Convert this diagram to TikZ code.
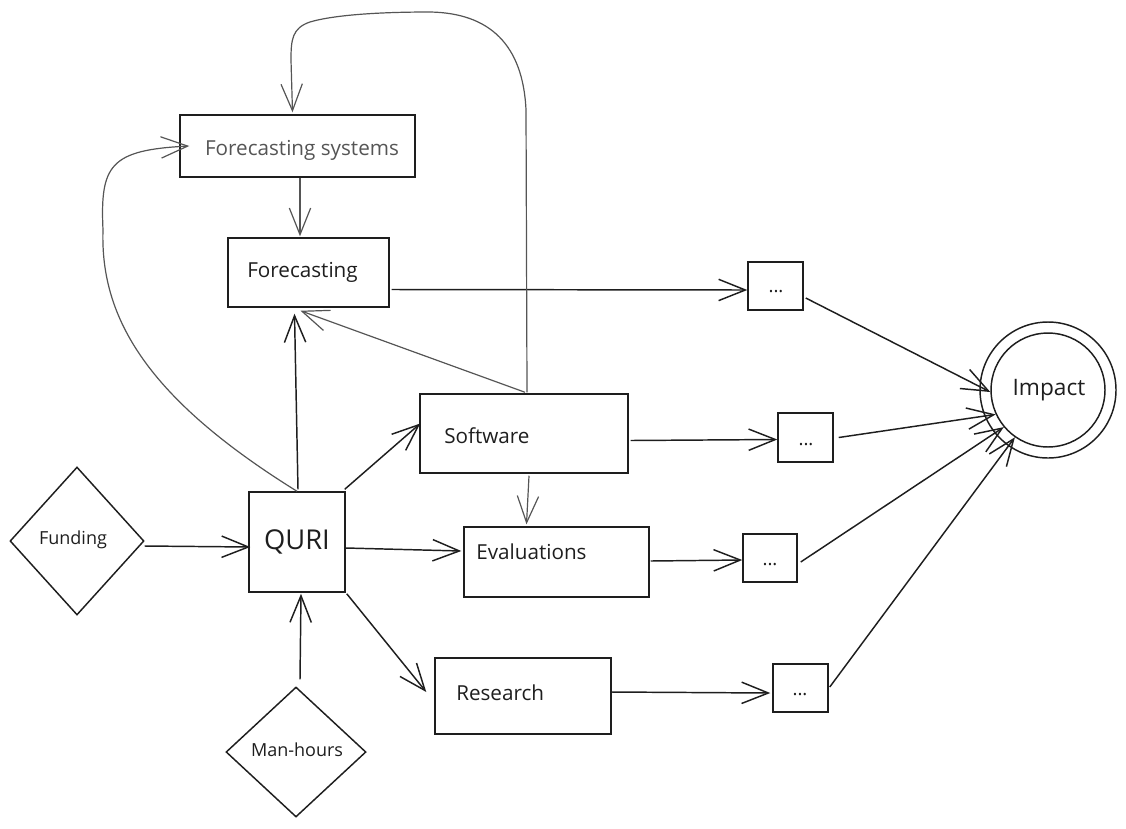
\documentclass[tikz,border=0pt]{standalone}
\usepackage{fontspec}
\setmainfont{Open Sans}
\usetikzlibrary{arrows.meta,calc,shapes.geometric}
\definecolor{ink}{HTML}{1E1E1E}
\definecolor{inkgrey}{HTML}{555555}
\begin{document}
\begin{tikzpicture}[x=0.75pt,y=-0.75pt,
  sz/.style 2 args={minimum width=#1*0.75pt,minimum height=#2*0.75pt},
  box/.style={draw=ink,line width=1.1pt,rectangle,inner sep=0pt},
  dia/.style={draw=ink,line width=1.1pt,diamond,inner sep=0pt},
  ring/.style={draw=ink,line width=1.1pt,circle,inner sep=0pt},
  txt/.style={text=ink,inner sep=0pt,text height=0.72em,text depth=0pt,font=\fontsize{15.5}{18}\selectfont},
  dotstxt/.style={text=ink,inner sep=0pt,anchor=base,font=\fontsize{14}{16}\selectfont},
  arr/.style={draw=ink,line width=1.1pt,-{Straight Barb[length=20pt,width=16pt,line width=1.1pt]}},
  arrthin/.style={draw=inkgrey,line width=0.9pt,-{Straight Barb[length=20pt,width=16pt,line width=0.9pt]}}
]
\useasboundingbox (0,0) rectangle (1126,828);

% boxes
\node[box,sz={235}{62}] (fs) at (297.5,146) {};
\node[box,sz={161}{69}] (fc) at (308.5,272.5) {};
\node[box,sz={96}{100}] (quri) at (297,542) {};
\node[box,sz={208}{79}] (sw) at (524,433.5) {};
\node[box,sz={185}{70}] (ev) at (556.5,562) {};
\node[box,sz={176}{76}] (rs) at (523,696) {};
\node[box,sz={55}{48}] (d1) at (775.5,286) {};
\node[box,sz={55}{49}] (d2) at (805.5,437.5) {};
\node[box,sz={54}{48}] (d3) at (770,558) {};
\node[box,sz={55}{48}] (d4) at (800.5,688) {};
\node[dia,sz={134}{148}] (fund) at (77,541) {};
\node[dia,sz={140}{130}] (mh) at (296,752) {};
\node[ring,minimum size=136*0.75pt] (imout) at (1048,390) {};
\node[ring,minimum size=114*0.75pt] (imin) at (1048,390) {};

% texts
\node[txt,text=inkgrey] (fst) at (302,151) {Forecasting systems};
\node[txt,anchor=west] (fct) at (247,273) {Forecasting};
\node[txt,anchor=west] (swt) at (444,439) {Software};
\node[txt,anchor=west] (evt) at (476,555) {Evaluations};
\node[txt,anchor=west] (rst) at (456,696) {Research};
\node[txt,font=\fontsize{20.5}{24}\selectfont] (qt) at (297,545) {QURI};
\node[txt,font=\fontsize{13.5}{16}\selectfont] (ft) at (73,540) {Funding};
\node[txt,font=\fontsize{13.5}{16}\selectfont] (mht) at (297,752) {Man-hours};
\node[txt,font=\fontsize{17}{20}\selectfont] (imt) at (1049,391) {Impact};
\node[dotstxt] (d1t) at (776,292) {...};
\node[dotstxt] (d2t) at (806,445) {...};
\node[dotstxt] (d3t) at (770,565) {...};
\node[dotstxt] (d4t) at (800,695) {...};

% connectors
\draw[arrthin] ($(fs.south)+(2.5,0)$) -- ($(fc.north)+(-8.5,-1)$);
\draw[arr] ($(fc.east)+(2,17)$) -- ($(d1.west)+(0,4)$);
\draw[arr] ($(quri.north)+(1,-2)$) -- ($(fc.south)+(-14,6)$);
\draw[arrthin] ($(sw.north)+(1,-1)$) -- ($(fc.south)+(-8,3)$);
\draw[arrthin] ($(sw.north)+(3,-1)$) -- (526,110)
   .. controls (523,45) and (490,13) .. (430,12)
   .. controls (370,12) and (330,16) .. (310,22)
   .. controls (292,28) and (291,40) .. (291,60)
   -- ($(fs.north)+(-5,-2)$);
\draw[arrthin] (quri.north) .. controls (150,400) and (100,320) .. (103,230)
   .. controls (100,165) and (110,150) .. ($(fs.west)+(10,0)$);
\draw[arr] ($(fund.east)+(0,5)$) -- ($(quri.west)+(2,5)$);
\draw[arr] ($(mh.north)+(4,-7)$) -- ($(quri.south)+(4,1)$);
\draw[arr] ($(quri.north east)+(-1,-2)$) -- ($(sw.west)+(1,-10)$);
\draw[arr] ($(quri.east)+(0,6)$) -- ($(ev.west)+(-2,-11)$);
\draw[arr] ($(quri.south east)+(1,1)$) -- ($(rs.west)+(-8,-4)$);
\draw[arrthin] ($(sw.south)+(5,2)$) -- ($(ev.north)+(-30,-2)$);
\draw[arr] ($(sw.east)+(2,7)$) -- ($(d2.west)+(0,2)$);
\draw[arr] ($(ev.east)+(1,-1)$) -- ($(d3.west)+(0,2)$);
\draw[arr] ($(rs.east)+(0,-4)$) -- ($(d4.west)+(-2,5)$);
\draw[arr] ($(d1.east)+(2,12)$) -- (imin.182);
\draw[arr] ($(d2.east)+(5,0)$) -- (imin.205);
\draw[arr] ($(d3.east)+(3,4)$) -- (imin.220);
\draw[arr] ($(d4.east)+(1,-1)$) -- (imin.235);
\end{tikzpicture}
\end{document}
